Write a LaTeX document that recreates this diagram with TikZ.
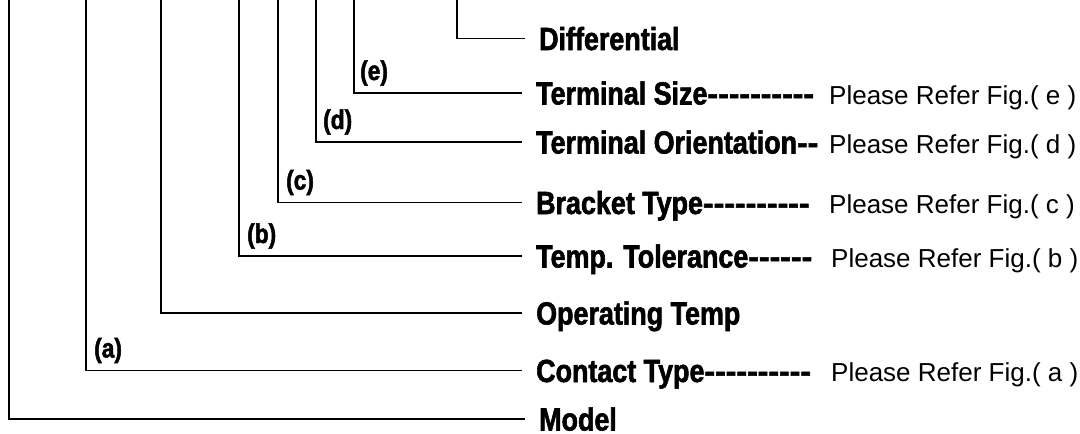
\documentclass[tikz,border=0pt]{standalone}
\usepackage{fontspec}
\newfontfamily\hdfont[FakeStretch=0.84,FakeBold=1.8,Ligatures=TeXOff]{Liberation Sans}
\newfontfamily\dshfont[FakeStretch=1.0,FakeBold=1.8,Ligatures=TeXOff]{Liberation Sans}
\newfontfamily\rgfont{Liberation Sans}
\newcommand{\dsh}[1]{{\dshfont #1}}
\begin{document}
\begin{tikzpicture}[x=1pt,y=-1pt,
  wire/.style={line width=1.8pt,black},
  head/.style={anchor=west,inner xsep=14pt,inner ysep=0pt,text height=23pt,text depth=0pt,
               font=\hdfont\bfseries\fontsize{32}{34}\selectfont},
  note/.style={anchor=base west,inner sep=0pt,font=\rgfont\fontsize{26}{30}\selectfont},
  tag/.style={anchor=base west,inner sep=0pt,font=\hdfont\bfseries\fontsize{27}{30}\selectfont}]
\useasboundingbox (0,0) rectangle (1080,434);
% top coordinates of vertical lines
\coordinate (tM) at (9,-2);
\coordinate (tA) at (86,-2);
\coordinate (tO) at (161,-2);
\coordinate (tB) at (239,-2);
\coordinate (tC) at (278,-2);
\coordinate (tD) at (316,-2);
\coordinate (tE) at (354,-2);
\coordinate (tF) at (457,-2);
% heading nodes (west anchor = line end)
\node[head] (hF) at (525,38.5) {Differential};
\node[head] (hE) at (522,93) {Terminal Size\dsh{----------}};
\node[head] (hD) at (522,142) {Terminal Orientation\dsh{--}};
\node[head] (hC) at (522,202.5) {Bracket Type\dsh{----------}};
\node[head] (hB) at (522,256) {Temp. Tolerance\dsh{------}};
\node[head] (hO) at (522,313) {Operating Temp};
\node[head] (hA) at (522,370.5) {Contact Type\dsh{----------}};
\node[head] (hM) at (525,419) {Model};
% notes
\node[note] (nE) at (829,104) {Please Refer Fig.( e )};
\node[note] (nD) at (829,153) {Please Refer Fig.( d )};
\node[note] (nC) at (829,213.5) {Please Refer Fig.( c )};
\node[note] (nB) at (831,267) {Please Refer Fig.( b )};
\node[note] (nA) at (831,381.5) {Please Refer Fig.( a )};
% connectors
\draw[wire] (tF) |- (hF.west);
\draw[wire] (tE) |- (hE.west);
\draw[wire] (tD) |- (hD.west);
\draw[wire] (tC) |- (hC.west);
\draw[wire] (tB) |- (hB.west);
\draw[wire] (tO) |- (hO.west);
\draw[wire] (tA) |- (hA.west);
\draw[wire] (tM) |- (hM.west);
% tags
\node[tag] (lE) at (360,80) {(e)};
\node[tag] (lD) at (323,129) {(d)};
\node[tag] (lC) at (286,189.5) {(c)};
\node[tag] (lB) at (247,243) {(b)};
\node[tag] (lA) at (94,357.5) {(a)};
\end{tikzpicture}
\end{document}
